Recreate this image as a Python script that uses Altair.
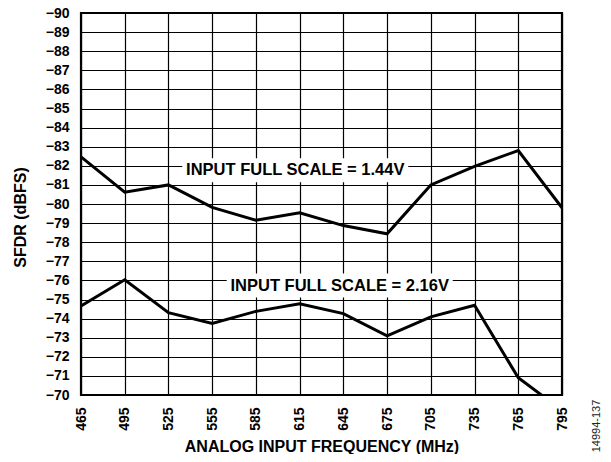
import altair as alt
import pandas as pd

freq = [465, 495, 525, 555, 585, 615, 645, 675, 705, 735, 765, 795]
sfdr_144 = [-82.47, -80.62, -81.0, -79.82, -79.15, -79.54, -78.87, -78.44, -81.0, -81.97, -82.8, -79.8]
sfdr_216 = [-74.66, -76.03, -74.31, -73.74, -74.38, -74.78, -74.26, -73.1, -74.09, -74.7, -70.9, -69.2]
series_names = ["INPUT FULL SCALE = 1.44V", "INPUT FULL SCALE = 2.16V"]

label_text = series_names
label_x = [612, 642.5]
label_y = [-81.77, -75.73]

figure_id = ["14994-137"]

x_ticks = list(range(465, 796, 30))
y_ticks = list(range(-90, -69, 1))

rows = []
for f, a, b in zip(freq, sfdr_144, sfdr_216):
    rows.append({"freq": f, "sfdr": a, "series": series_names[0]})
    rows.append({"freq": f, "sfdr": b, "series": series_names[1]})
df = pd.DataFrame(rows)
labels = pd.DataFrame({"text": label_text, "x": label_x, "y": label_y})
fig_df = pd.DataFrame({"text": figure_id})

FONT = "Liberation Sans"

xscale = alt.Scale(domain=[465, 795], nice=False, zero=False)
yscale = alt.Scale(domain=[-90, -70], reverse=True, nice=False, zero=False)

xaxis = alt.Axis(values=x_ticks, labelAngle=270, grid=True, gridColor="black", gridOpacity=1,
                 gridWidth=1.2, ticks=False, domain=False, labelPadding=12, labelOverlap=False,
                 labelFont=FONT, labelFontWeight="bold", labelFontSize=14, labelColor="black",
                 title="ANALOG INPUT FREQUENCY (MHz)", titleFont=FONT, titleFontWeight="bold",
                 titleFontSize=16, titleColor="black", titleX=240.5, titleY=56,
                 titleAlign="center", titleBaseline="alphabetic")
yaxis = alt.Axis(values=y_ticks, tickCount=21, grid=True, gridColor="black", gridOpacity=1,
                 gridWidth=1.2, ticks=False, domain=False, labelPadding=12, labelOverlap=False,
                 labelFont=FONT, labelFontWeight="bold", labelFontSize=14, labelColor="black",
                 title="SFDR (dBFS)", titleFont=FONT, titleFontWeight="bold",
                 titleFontSize=16, titleColor="black", titleX=-61, titleY=204,
                 titleAngle=270, titleAlign="center", titleBaseline="middle")

lines = alt.Chart(df).mark_line(color="black", strokeWidth=3, clip=True).encode(
    x=alt.X("freq:Q", scale=xscale, axis=xaxis),
    y=alt.Y("sfdr:Q", scale=yscale, axis=yaxis),
    detail="series:N",
)

boxes = alt.Chart(labels).mark_rect(color="white", width=226, height=24).encode(
    x=alt.X("x:Q", scale=xscale, axis=xaxis),
    y=alt.Y("y:Q", scale=yscale, axis=yaxis),
)

texts = alt.Chart(labels).mark_text(font=FONT, fontWeight="bold", fontSize=16.5, color="black",
                                    align="center", baseline="middle").encode(
    x=alt.X("x:Q", scale=xscale, axis=xaxis),
    y=alt.Y("y:Q", scale=yscale, axis=yaxis),
    text="text:N",
)

fig_label = alt.Chart(fig_df).mark_text(font=FONT, fontSize=11, color="#222222", angle=270,
                                        align="center", baseline="middle").encode(
    x=alt.value(516), y=alt.value(413), text="text:N",
)

chart = alt.layer(lines, boxes, texts, fig_label).properties(
    width=481, height=382,
    autosize=alt.AutoSizeParams(type="none"),
    padding={"left": 73, "top": 5, "right": 41, "bottom": 59},
).configure_view(stroke="black", strokeWidth=2.2)

chart.save("out.html", embed_options={"renderer": "svg", "actions": False})
